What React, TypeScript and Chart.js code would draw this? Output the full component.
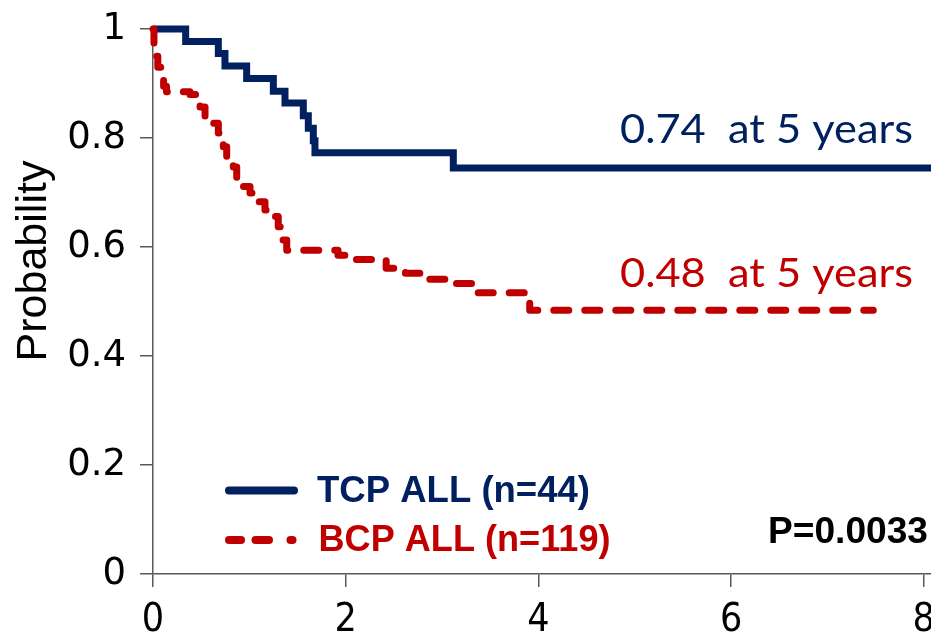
import React, { useEffect, useRef } from 'react';
import { Chart, registerables } from 'chart.js';

Chart.register(...registerables);

// ---- Data ----
const TCP_TIMES = [0, 0.339, 0.678, 0.747, 0.972, 1.249, 1.37, 1.56, 1.612, 1.664, 1.681, 3.117, 8.075];
const TCP_SURV = [1, 0.977, 0.955, 0.932, 0.909, 0.886, 0.864, 0.841, 0.818, 0.795, 0.773, 0.745, 0.745];

const BCP_TIMES = [
  0, 0.01, 0.03, 0.05, 0.08, 0.11, 0.14, 0.384, 0.488, 0.54, 0.609, 0.678, 0.73, 0.765, 0.833, 0.869,
  0.937, 1.007, 1.093, 1.162, 1.232, 1.3, 1.335, 1.388, 1.92, 2.1, 2.42, 2.62, 2.77, 3.05, 3.32, 3.91, 7.476,
];
const BCP_SURV = [
  1, 0.97, 0.95, 0.93, 0.91, 0.895, 0.885, 0.88, 0.857, 0.833, 0.827, 0.809, 0.784, 0.76, 0.747, 0.723,
  0.711, 0.699, 0.683, 0.668, 0.656, 0.637, 0.613, 0.594, 0.585, 0.577, 0.561, 0.552, 0.541, 0.533, 0.516, 0.484, 0.484,
];

const X_TICKS = [0, 2, 4, 6, 8];
const Y_TICKS = [0, 0.2, 0.4, 0.6, 0.8, 1];

const TCP_LABEL = 'TCP ALL (n=44)';
const BCP_LABEL = 'BCP ALL (n=119)';
const TCP_NOTE = '0.74  at 5 years';
const BCP_NOTE = '0.48  at 5 years';
const P_TEXT = 'P=0.0033';
const Y_TITLE = 'Probability';

const NAVY = '#002060';
const RED = '#C00000';
const AXIS = '#595959';

function fitText(ctx: CanvasRenderingContext2D, text: string, left: number, baseline: number, width: number) {
  const w = ctx.measureText(text).width;
  const s = w > 0 ? width / w : 1;
  ctx.save();
  ctx.translate(left, baseline);
  ctx.scale(s, 1);
  ctx.textAlign = 'left';
  ctx.textBaseline = 'alphabetic';
  ctx.fillText(text, 0, 0);
  ctx.restore();
}

const decorPlugin = {
  id: 'decor',
  afterDraw(chart: any) {
    const ctx: CanvasRenderingContext2D = chart.ctx;
    ctx.save();
    // y-axis title
    ctx.save();
    ctx.fillStyle = '#000';
    ctx.font = '43px "Liberation Sans", Arial, sans-serif';
    ctx.translate(46, 261);
    ctx.rotate(-Math.PI / 2);
    ctx.textAlign = 'center';
    ctx.textBaseline = 'alphabetic';
    ctx.fillText(Y_TITLE, 0, 0);
    ctx.restore();

    // notes
    ctx.font = '41px Lato, "Open Sans", sans-serif';
    ctx.fillStyle = NAVY;
    fitText(ctx, TCP_NOTE, 620, 142.5, 293);
    ctx.fillStyle = RED;
    fitText(ctx, BCP_NOTE, 620, 286.5, 293);

    // legend samples
    ctx.lineCap = 'round';
    ctx.lineWidth = 8;
    ctx.strokeStyle = NAVY;
    ctx.beginPath();
    ctx.moveTo(229, 490.5);
    ctx.lineTo(294, 490.5);
    ctx.stroke();
    ctx.strokeStyle = RED;
    const segs = [[229, 241], [255.5, 269], [290.5, 292.5]];
    for (const [a, b] of segs) {
      ctx.beginPath();
      ctx.moveTo(a, 540);
      ctx.lineTo(b, 540);
      ctx.stroke();
    }

    // legend texts
    ctx.font = 'bold 36px "Liberation Sans", Arial, sans-serif';
    ctx.fillStyle = NAVY;
    fitText(ctx, TCP_LABEL, 317, 501.5, 273);
    ctx.fillStyle = RED;
    fitText(ctx, BCP_LABEL, 318.5, 551, 292);
    ctx.fillStyle = '#000';
    fitText(ctx, P_TEXT, 768, 543, 160);
    ctx.restore();
  },
};

export default function App() {
  const ref = useRef<HTMLCanvasElement | null>(null);

  useEffect(() => {
    document.body.style.margin = '0';
    const canvas = ref.current;
    if (!canvas) return;
    const chart = new Chart(canvas, {
      type: 'line',
      data: {
        datasets: [
          {
            label: BCP_LABEL,
            data: BCP_TIMES.map((t, i) => ({ x: t, y: BCP_SURV[i] })),
            borderColor: RED,
            borderWidth: 7,
            borderDash: [15, 16],
            borderCapStyle: 'round',
            borderJoinStyle: 'round',
            stepped: 'before',
            pointRadius: 0,
            fill: false,
            clip: false,
          },
          {
            label: TCP_LABEL,
            data: TCP_TIMES.map((t, i) => ({ x: t, y: TCP_SURV[i] })),
            borderColor: NAVY,
            borderWidth: 7,
            borderJoinStyle: 'miter',
            borderCapStyle: 'butt',
            stepped: 'before',
            pointRadius: 0,
            fill: false,
            clip: false,
          },
        ],
      } as any,
      options: {
        animation: false,
        responsive: false,
        devicePixelRatio: 1,
        layout: { padding: { top: 29, right: 0, bottom: 0, left: 0 } },
        plugins: { legend: { display: false }, tooltip: { enabled: false } },
        scales: {
          x: {
            type: 'linear',
            min: 0,
            max: 8.075,
            afterBuildTicks: (s: any) => {
              s.ticks = X_TICKS.map((v) => ({ value: v }));
            },
            afterFit: (s: any) => {
              s.height = 68;
              s.paddingLeft = 0;
              s.paddingRight = 0;
            },
            grid: { drawOnChartArea: false, drawTicks: true, tickLength: 13, color: AXIS, lineWidth: 1.5 },
            border: { display: true, color: AXIS, width: 1.5 },
            ticks: {
              color: '#000',
              padding: 10,
              maxRotation: 0,
              autoSkip: false,
              font: { family: '"Liberation Sans Narrow", "DejaVu Sans Condensed", sans-serif', size: 39 },
              callback: (v: any) => String(v),
            },
          },
          y: {
            type: 'linear',
            min: 0,
            max: 1,
            afterBuildTicks: (s: any) => {
              s.ticks = Y_TICKS.map((v) => ({ value: v }));
            },
            afterFit: (s: any) => {
              s.width = 153;
              s.paddingTop = 0;
              s.paddingBottom = 0;
            },
            grid: { drawOnChartArea: false, drawTicks: true, tickLength: 13, color: AXIS, lineWidth: 1.5 },
            border: { display: true, color: AXIS, width: 1.5 },
            ticks: {
              color: '#000',
              padding: 14,
              autoSkip: false,
              font: { family: '"DejaVu Sans", sans-serif', size: 37 },
              callback: (v: any) => (v === 0 || v === 1 ? String(v) : Number(v).toFixed(1)),
            },
          },
        },
      } as any,
      plugins: [decorPlugin],
    });
    return () => chart.destroy();
  }, []);

  return (
    <div style={{ width: 931, height: 642, position: 'relative', background: '#fff' }}>
      <canvas ref={ref} width={931} height={642} style={{ display: 'block' }} />
    </div>
  );
}
